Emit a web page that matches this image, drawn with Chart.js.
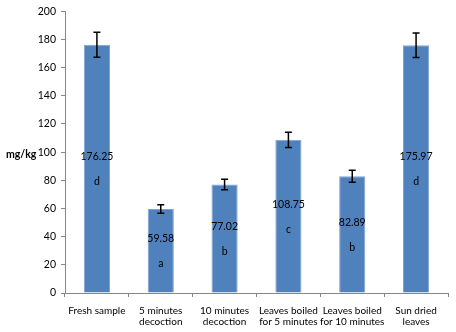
<!DOCTYPE html>
<html>
<head>
<meta charset="utf-8">
<script src="https://cdn.jsdelivr.net/npm/chart.js@4/dist/chart.umd.min.js"></script>
<style>
  html, body { margin: 0; padding: 0; background: #fff; }
  #wrap { width: 456px; height: 332px; }
</style>
</head>
<body>
<div id="wrap"><canvas id="chart" width="456" height="332"></canvas></div>
<script>
// Data
const categories = [['Fresh sample'], ['5 minutes', 'decoction'], ['10 minutes', 'decoction'],
    ['Leaves boiled', 'for 5 minutes'], ['Leaves boiled', 'for 10 minutes'], ['Sun dried', 'leaves']];
const values = [176.25, 59.58, 77.02, 108.75, 82.89, 175.97];
const errors = [8.8, 3.0, 3.7, 5.4, 4.2, 8.7];
const letters = ['d', 'a', 'b', 'c', 'b', 'd'];
const yTicks = [0, 20, 40, 60, 80, 100, 120, 140, 160, 180, 200];

const FONT = 'Lato';
const AXIS = '#868686';

// error bars, in-bar labels, and the horizontal y title
const extras = {
    id: 'extras',
    afterDatasetsDraw(chart) {
        const ctx = chart.ctx, y = chart.scales.y;
        const meta = chart.getDatasetMeta(0);
        ctx.save();
        meta.data.forEach((bar, i) => {
            const hi = y.getPixelForValue(values[i] + errors[i]);
            const lo = y.getPixelForValue(values[i] - errors[i]);
            ctx.strokeStyle = '#000';
            ctx.lineWidth = 1.5;
            ctx.beginPath();
            ctx.moveTo(bar.x, hi); ctx.lineTo(bar.x, lo);
            ctx.moveTo(bar.x - 3.5, hi); ctx.lineTo(bar.x + 3.5, hi);
            ctx.moveTo(bar.x - 3.5, lo); ctx.lineTo(bar.x + 3.5, lo);
            ctx.stroke();

            const mid = (bar.y + bar.base) / 2;
            ctx.fillStyle = '#000';
            ctx.font = `10.5px ${FONT}`;
            ctx.textAlign = 'center';
            ctx.textBaseline = 'middle';
            ctx.fillText(values[i].toFixed(2), bar.x, mid - 12);
            ctx.fillText(letters[i], bar.x, mid + 13);
        });
        const a = chart.chartArea;
        ctx.font = `bold 10.5px ${FONT}`;
        ctx.textAlign = 'left';
        ctx.fillText('mg/kg', 6, (a.top + a.bottom) / 2 + 2);
        ctx.restore();
    }
};

new Chart(document.getElementById('chart'), {
    type: 'bar',
    data: {
        labels: categories,
        datasets: [{
            data: values,
            backgroundColor: '#4F81BD',
            borderColor: '#7FA2D0',
            borderWidth: 1,
            barPercentage: 0.41,
            categoryPercentage: 1
        }]
    },
    options: {
        responsive: false,
        animation: false,
        layout: { padding: { top: 9, right: 8, left: 0, bottom: 0 } },
        plugins: { legend: { display: false }, tooltip: { enabled: false } },
        scales: {
            x: {
                grid: { drawOnChartArea: false, tickLength: 4, color: AXIS, offset: true },
                border: { color: AXIS },
                ticks: { color: '#000', font: { family: FONT, size: 10, lineHeight: 1.15 }, maxRotation: 0, autoSkip: false, padding: 8 },
                afterFit: s => { s.height = 39; }
            },
            y: {
                min: 0, max: 200,
                afterBuildTicks: s => { s.ticks = yTicks.map(v => ({ value: v })); },
                grid: { drawOnChartArea: false, tickLength: 4, color: AXIS },
                border: { color: AXIS },
                ticks: { color: '#000', font: { family: FONT, size: 10.5 }, padding: 5 },
                afterFit: s => { s.width = 65; }
            }
        }
    },
    plugins: [extras]
});
</script>
</body>
</html>
